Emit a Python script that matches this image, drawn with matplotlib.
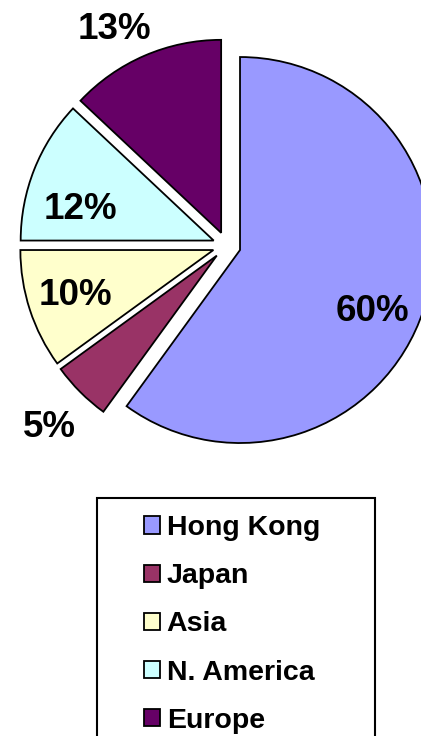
import numpy as np
import matplotlib
matplotlib.use('Agg')
import matplotlib.pyplot as plt
from matplotlib.patches import Rectangle

# shares of sales by region
regions = ['Hong Kong', 'Japan', 'Asia', 'N. America', 'Europe']
shares = [60, 5, 10, 12, 13]

colors = ['#9999FF', '#993366', '#FFFFCC', '#CCFFFF', '#660066']
# where each percent label sits: radius (fraction of pie radius) and angle nudge (deg)
label_dist = [0.75, 1.23, 0.745, 0.715, 1.21]
label_nudge = [-5.5, 0.0, -1.4, 6.7, 3.9]

W, H = 421, 736
fig = plt.figure(figsize=(W / 100, H / 100), dpi=100)
ax = fig.add_axes([0, 0, 1, 1])

R = 193
center = (226.7, H - 245.7)
wedges, _ = ax.pie(shares, colors=colors, startangle=90, counterclock=False,
                   radius=R, center=center, explode=[14] * len(shares),
                   wedgeprops=dict(edgecolor='black', linewidth=1.3))
ax.set_xlim(0, W)
ax.set_ylim(0, H)
ax.set_aspect('equal')
ax.axis('off')

# percent labels
for w, s, d, nd in zip(wedges, shares, label_dist, label_nudge):
    mid = np.deg2rad((w.theta1 + w.theta2) / 2 + nd)
    cx, cy = w.center
    ax.text(cx + d * R * np.cos(mid), cy + d * R * np.sin(mid), f'{s}%',
            ha='center', va='center_baseline', fontsize=26.5, fontweight='bold',
            family='Liberation Sans')

# legend with its own frame
fig.patches.append(Rectangle((97 / W, -0.05), (375 - 97) / W, 1 - 498 / H + 0.05,
                             transform=fig.transFigure, fill=False,
                             edgecolor='black', linewidth=1.5))
leg = fig.legend(wedges, regions, loc='upper left',
                 bbox_to_anchor=(144 / W, 1 - 515 / H),
                 frameon=False, borderpad=0, borderaxespad=0,
                 handlelength=0.55, handleheight=0.55,
                 handletextpad=0.25, labelspacing=0.78,
                 prop=dict(family='Liberation Sans', weight='bold', size=20.5))

fig.savefig('out.png', dpi=100)
